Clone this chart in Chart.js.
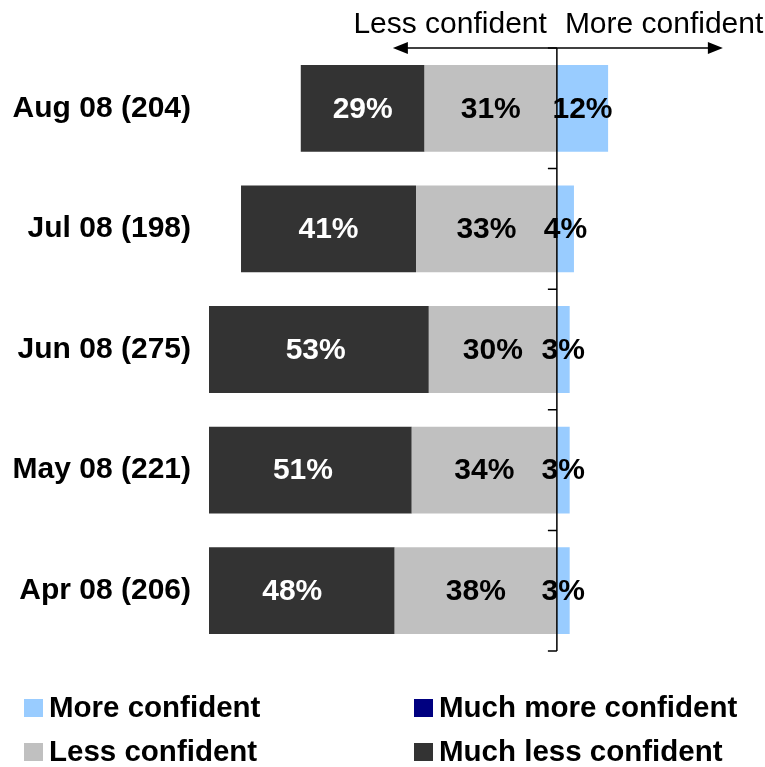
<!DOCTYPE html>
<html>
<head>
<meta charset="utf-8">
<script src="https://cdn.jsdelivr.net/npm/chart.js@4.4.0/dist/chart.umd.min.js"></script>
<style>
  html, body { margin: 0; padding: 0; background: #fff; }
</style>
</head>
<body>
<canvas id="myChart" width="765" height="767"></canvas>
<script>
var labels = ["Aug 08 (204)", "Jul 08 (198)", "Jun 08 (275)", "May 08 (221)", "Apr 08 (206)"];
var muchLess = [29, 41, 53, 51, 48];
var less = [31, 33, 30, 34, 38];
var more = [12, 4, 3, 3, 3];
var muchMore = [0, 0, 0, 0, 0];

var FONT = "Arial, 'Liberation Sans', sans-serif";

function neg(arr) {
  return arr.map(function (v) { return -v; });
}

// zero axis, segment labels, arrows and legend
var barLabels = {
  id: "barLabels",
  afterDatasetsDraw: function (chart) {
    var c = chart.ctx;
    var x = chart.scales.x;
    var area = chart.chartArea;
    var x0 = x.getPixelForValue(0);

    c.save();
    c.strokeStyle = "#000";
    c.lineWidth = 1.5;
    c.beginPath();
    c.moveTo(x0, area.top);
    c.lineTo(x0, area.bottom);
    var band = (area.bottom - area.top) / labels.length;
    for (var k = 0; k <= labels.length; k++) {
      var ty = area.top + k * band;
      c.moveTo(x0 - 9, ty);
      c.lineTo(x0, ty);
    }
    c.stroke();

    c.font = "bold 30px " + FONT;
    c.textAlign = "center";
    c.textBaseline = "middle";
    chart.data.datasets.forEach(function (ds, i) {
      var meta = chart.getDatasetMeta(i);
      meta.data.forEach(function (bar, j) {
        var v = ds.data[j];
        if (!v) return;
        var p = bar.getCenterPoint();
        c.fillStyle = ds.labelColor;
        c.fillText(Math.abs(v) + "%", p.x, p.y + 1);
      });
    });
    c.restore();
  },
  afterDraw: function (chart) {
    var c = chart.ctx;
    var x0 = chart.scales.x.getPixelForValue(0);
    var ay = chart.chartArea.top;
    c.save();

    c.strokeStyle = "#000";
    c.fillStyle = "#000";
    c.lineWidth = 1.5;
    var left = x0 - 164, right = x0 + 166;
    c.beginPath();
    c.moveTo(left + 10, ay);
    c.lineTo(right - 10, ay);
    c.stroke();
    c.beginPath();
    c.moveTo(left, ay);
    c.lineTo(left + 15, ay - 6);
    c.lineTo(left + 15, ay + 6);
    c.closePath();
    c.fill();
    c.beginPath();
    c.moveTo(right, ay);
    c.lineTo(right - 15, ay - 6);
    c.lineTo(right - 15, ay + 6);
    c.closePath();
    c.fill();

    c.font = "30px " + FONT;
    c.textBaseline = "alphabetic";
    c.textAlign = "right";
    c.fillText("Less confident", x0 - 10, 33);
    c.textAlign = "left";
    c.fillText("More confident", x0 + 8, 33);

    // legend, 2 x 2
    var order = [2, 3, 0, 1];
    var pos = [[24, 708], [414, 708], [24, 752], [414, 752]];
    c.font = "bold 29.5px " + FONT;
    c.textBaseline = "middle";
    order.forEach(function (di, n) {
      var ds = chart.data.datasets[di];
      var p = pos[n];
      c.fillStyle = ds.backgroundColor;
      c.fillRect(p[0], p[1] - 9, 19, 18);
      c.fillStyle = "#000";
      c.fillText(ds.label, p[0] + 25, p[1] + 1);
    });
    c.restore();
  }
};

var ctx = document.getElementById("myChart");
var myChart = new Chart(ctx, {
  type: "bar",
  data: {
    labels: labels,
    datasets: [
      {
        label: "Less confident",
        data: neg(less),
        backgroundColor: "#C0C0C0",
        labelColor: "#000",
      },
      {
        label: "Much less confident",
        data: neg(muchLess),
        backgroundColor: "#333333",
        labelColor: "#fff",
      },
      {
        label: "More confident",
        data: more,
        backgroundColor: "#99CCFF",
        labelColor: "#000",
      },
      {
        label: "Much more confident",
        data: muchMore,
        backgroundColor: "#000080",
        labelColor: "#fff",
      },
    ],
  },
  options: {
    indexAxis: "y",
    responsive: false,
    animation: false,
    layout: { padding: { top: 48, bottom: 116, right: 25, left: 0 } },
    datasets: {
      bar: { categoryPercentage: 1, barPercentage: 0.72, borderWidth: 0, clip: 0 },
    },
    plugins: {
      legend: { display: false },
      tooltip: { enabled: false },
    },
    scales: {
      x: { stacked: true, min: -81.5, max: 42.9, display: false },
      y: {
        stacked: true,
        grid: { display: false, drawTicks: false },
        border: { display: false },
        ticks: { padding: 18, color: "#000", font: { family: FONT, size: 30, weight: "bold" } },
        afterFit: function (s) { s.width = 209; },
      },
    },
  },
  plugins: [barLabels],
});
</script>
</body>
</html>
